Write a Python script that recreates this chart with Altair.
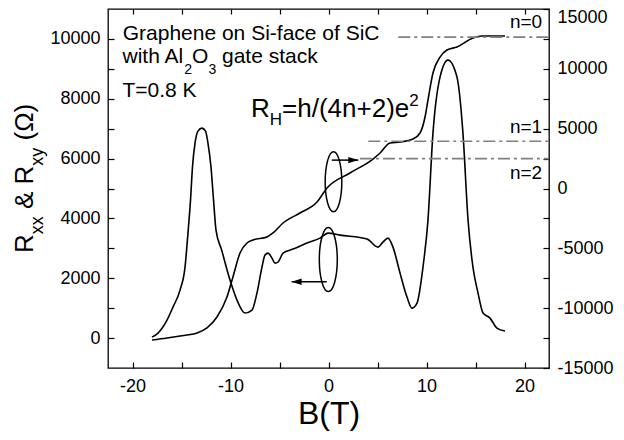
import altair as alt
import pandas as pd

FONT = "Liberation Sans"

# ---- data ----
# R_xx (left axis, Ohm) versus B (T)
rxx_B = [-18.01, -17.40, -16.48, -15.87, -15.15, -14.64, -14.34, -14.08, -13.88, -13.62, -13.32,
         -12.91, -12.55, -12.30, -11.99, -11.73, -11.48, -10.90, -10.05, -9.34, -8.52, -7.81,
         -7.30, -6.79, -6.48, -6.17, -5.77, -5.46, -5.15, -4.64, -3.62, -2.19, -0.87, -0.05,
         1.17, 3.93, 5.05, 5.56, 6.07, 6.58, 7.30, 8.01, 8.52, 9.03, 9.64, 10.15, 10.66, 11.38,
         12.19, 13.11, 13.72, 14.24, 14.74, 15.26, 15.77, 16.48, 17.19, 18.01]
rxx_R = [33, 167, 602, 1036, 1604, 2373, 3509, 4612, 5715, 6517, 6918,
         7018, 6918, 6517, 5715, 4612, 3609, 2941, 1938, 1270, 836, 936,
         1504, 2373, 2774, 2841, 2674, 2507, 2540, 2841, 2974, 3175, 3342, 3509,
         3442, 3309, 3041, 3208, 3342, 3041, 2172, 1370, 1003, 1170, 2373, 3944, 6851, 8723,
         9291, 8723, 6851, 3944, 2373, 1504, 836, 668, 334, 234]

# R_xy (right axis, Ohm) versus B (T)
rxy_B = [-18.01, -16.48, -15.15, -13.42, -12.40, -11.38, -10.36, -9.75, -9.03, -8.32, -7.70,
         -6.28, -5.66, -4.64, -2.91, -1.17, -0.15, 2.19, 4.54, 5.26, 6.28, 7.30, 8.62, 9.34,
         9.85, 10.15, 10.66, 11.38, 12.09, 13.11, 14.74, 15.66, 17.50, 18.01]
rxy_R = [-12656, -12489, -12322, -12071, -11653, -10734, -9064, -7393, -5388, -4553, -4302,
         -4051, -3717, -2882, -2047, -1128, 42, 1295, 2464, 2966, 3801, 3885, 4135, 4636,
         5973, 7393, 9648, 10985, 11570, 11820, 12572, 12740, 12740, 12740]

x_tick_values = [-20, -15, -10, -5, 0, 5, 10, 15, 20]
left_tick_values = [0, 1000, 2000, 3000, 4000, 5000, 6000, 7000, 8000, 9000, 10000]
right_tick_values = [-15000, -12500, -10000, -7500, -5000, -2500, 0, 2500, 5000, 7500,
                     10000, 12500, 15000]

plateau_names = ["n=0", "n=1", "n=2"]
plateau_R = [12650, 3950, 2500]
plateau_B_start = [7.12, 4.06, 3.21]
plateau_B_end = [22.5, 22.5, 22.5]
plateau_label_B = [21.8, 21.8, 21.8]
plateau_label_R = [13408, 4636, 794]

note_texts = ["Graphene on Si-face of SiC", "T=0.8 K"]
note_B = [-21.0, -21.02]
note_R = [9976, 8054]
gate_B = [-21.02]
gate_R = [9190]
rh_B = [-7.91]
rh_R = [7386]

ellipse_B = [0.51, -0.02]
ellipse_R = [5224, 2623]
arrow_B_start = [0.33, -0.18]
arrow_B_tip = [3.04, -3.76]
arrow_R = [5949, 1882]

# ---- layout ----
W, H = 441, 359
xs = alt.Scale(domain=[-22.5, 22.5], nice=False, zero=False)
ys_left = alt.Scale(domain=[-1000, 11000], nice=False, zero=False)
ys_right = alt.Scale(domain=[-15000, 15000], nice=False, zero=False)

common = dict(domain=False, tickColor="black", tickWidth=1.2, labelColor="black",
              labelFont=FONT, labelFontSize=18, labelOverlap=False, labelFlush=False,
              grid=False)

x_bottom = alt.Axis(orient="bottom", values=x_tick_values,
                    labelExpr="datum.value % 10 == 0 ? '' + datum.value : ''",
                    offset=-6, tickSize=6, labelPadding=9, title="B(T)", titleFont=FONT,
                    titleFontSize=32, titleFontWeight="normal", titleColor="black",
                    titlePadding=3, **common)
x_top = alt.Axis(orient="top", values=x_tick_values, labels=False, offset=-5, tickSize=5,
                 title=None, **common)
y_left = alt.Axis(orient="left", values=left_tick_values,
                  labelExpr="datum.value % 2000 == 0 ? '' + datum.value : ''",
                  offset=-6, tickSize=6, labelPadding=8, title=None, **common)
y_right = alt.Axis(orient="right", values=right_tick_values,
                   labelExpr="datum.value % 5000 == 0 ? '' + datum.value : ''",
                   labelOffset={"condition": {"test": "datum.value == 15000", "value": 8},
                                "value": 0},
                   offset=-6, tickSize=6, labelPadding=8, title=None, **common)

df_xx = pd.DataFrame({"B": rxx_B, "R": rxx_R})
df_xy = pd.DataFrame({"B": rxy_B, "R": rxy_R})


def xl(axis=None):
    return alt.X("B:Q", scale=xs, axis=axis)


def yL(axis=None):
    return alt.Y("R:Q", scale=ys_left, axis=axis)


def yR(axis=None):
    return alt.Y("R:Q", scale=ys_right, axis=axis)


rxx_line = alt.Chart(df_xx).mark_line(color="black", strokeWidth=1.6, interpolate="monotone").encode(
    x=xl(x_bottom), y=yL(y_left))

notes = alt.Chart(pd.DataFrame({"B": note_B, "R": note_R, "t": note_texts})).mark_text(
    font=FONT, fontSize=21, align="left", baseline="alphabetic", color="black").encode(
    x=xl(), y=yL(), text="t:N")


def piece(B, R, text, size, dx=0, dy=0):
    return alt.Chart(pd.DataFrame({"B": B, "R": R})).mark_text(
        text=text, font=FONT, fontSize=size, dx=dx, dy=dy, align="left",
        baseline="alphabetic", color="black").encode(x=xl(), y=yL())


gate_parts = [("with Al", 21, 0, 0), ("2", 14, 61.8, 11), ("O", 21, 69.6, 0),
              ("3", 14, 85.9, 11), ("gate stack", 21, 99.5, 0)]
gate_layers = [piece(gate_B, gate_R, t, s, dx, dy) for t, s, dx, dy in gate_parts]

rh_parts = [("R", 26, 0, 0), ("H", 17, 18.8, 8), ("=h/(4n+2)e", 26, 31.1, 0), ("2", 17, 158.3, -11)]
rh_layers = [piece(rh_B, rh_R, t, s, dx, dy) for t, s, dx, dy in rh_parts]

one = pd.DataFrame({"k": [0]})
ytitle_parts = [("R", 26, 0, 0), ("xx", 18, 18.8, 10), ("& R", 26, 44, 0),
                ("xy", 18, 87.3, 10), ("(Ω)", 26, 112.5, 0)]
ytitle_layers = [
    alt.Chart(one).mark_text(text=t, font=FONT, fontSize=s, dx=dx, dy=dy, angle=270,
                             align="left", baseline="alphabetic", color="black").encode(
        x=alt.value(-75), y=alt.value(244))
    for t, s, dx, dy in ytitle_parts
]


def ellipse_path(a):
    k = 0.5523
    ka = round(k * a, 4)
    return (f"M 0,-1 C {ka},-1 {a},-{k} {a},0 C {a},{k} {ka},1 0,1 "
            f"C -{ka},1 -{a},{k} -{a},0 C -{a},-{k} -{ka},-1 0,-1 Z")


ell1 = alt.Chart(pd.DataFrame({"B": ellipse_B[:1], "R": ellipse_R[:1]})).mark_point(
    shape=ellipse_path(0.277), size=3600, filled=False, stroke="black", strokeWidth=1.5,
    opacity=1).encode(x=xl(), y=yL())
ell2 = alt.Chart(pd.DataFrame({"B": ellipse_B[1:], "R": ellipse_R[1:]})).mark_point(
    shape=ellipse_path(0.281), size=4096, filled=False, stroke="black", strokeWidth=1.5,
    opacity=1).encode(x=xl(), y=yL())

df_arrow = pd.DataFrame({"B": arrow_B_start, "B2": arrow_B_tip, "R": arrow_R})
arrow_lines = alt.Chart(df_arrow).mark_rule(color="black", strokeWidth=1.5).encode(
    x=xl(), x2="B2:Q", y=yL())
head_r = alt.Chart(pd.DataFrame({"B": arrow_B_tip[:1], "R": arrow_R[:1]})).mark_point(
    shape="M -1,-0.32 L 0,0 L -1,0.32 Z", size=400, filled=True, color="black", opacity=1,
    strokeWidth=0).encode(x=xl(), y=yL())
head_l = alt.Chart(pd.DataFrame({"B": arrow_B_tip[1:], "R": arrow_R[1:]})).mark_point(
    shape="M 1,-0.32 L 0,0 L 1,0.32 Z", size=400, filled=True, color="black", opacity=1,
    strokeWidth=0).encode(x=xl(), y=yL())

df_pl = pd.DataFrame({"B": plateau_B_start, "B2": plateau_B_end, "R": plateau_R})
dash = alt.Chart(df_pl).mark_rule(color="#808080", strokeWidth=1.6,
                                  strokeDash=[12, 4, 3, 4]).encode(
    x=xl(), x2="B2:Q", y=yR())
rxy_line = alt.Chart(df_xy).mark_line(color="black", strokeWidth=1.6, interpolate="monotone").encode(
    x=xl(x_top), y=yR(y_right))
n_labels = alt.Chart(pd.DataFrame({"B": plateau_label_B, "R": plateau_label_R,
                                   "t": plateau_names})).mark_text(
    font=FONT, fontSize=19, align="right", baseline="alphabetic", color="black").encode(
    x=xl(), y=yR(), text="t:N")

chart = alt.layer(
    rxx_line, rxy_line, dash, notes, *gate_layers, *rh_layers, ell1, ell2, arrow_lines,
    head_r, head_l, n_labels, *ytitle_layers
).resolve_scale(y="independent").resolve_axis(
    x="independent", y="independent").properties(
    width=W, height=H,
    autosize=alt.AutoSizeParams(type="none"),
    padding={"left": 100, "top": 1, "right": 67, "bottom": 64},
    background="white",
).configure_view(stroke="black", strokeWidth=1.3)

chart.save("out.html", embed_options={"renderer": "svg", "actions": False})
